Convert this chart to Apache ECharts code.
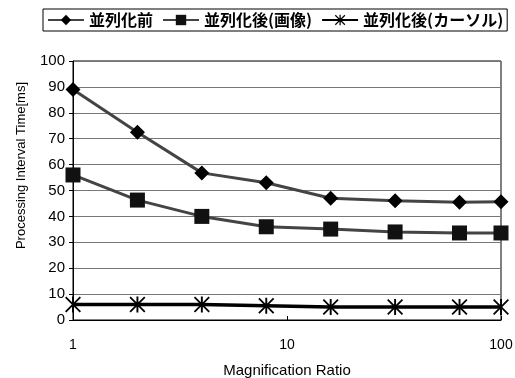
<!DOCTYPE html>
<html><head><meta charset="utf-8">
<script src="https://cdn.jsdelivr.net/npm/echarts@6/dist/echarts.min.js"></script>
<style>html,body{margin:0;padding:0;background:#fff}#c{width:515px;height:378px}</style>
</head><body><div id="c"></div>
<script>
var ratios = [1, 2, 4, 8, 16, 32, 64, 100];
var seriesNames = ['並列化前', '並列化後(画像)', '並列化後(カーソル)'];
var before = [89, 72.5, 56.8, 53, 47, 46, 45.5, 45.7];
var afterImage = [56, 46.3, 40, 36, 35.1, 34, 33.6, 33.6];
var afterCursor = [6, 6, 6, 5.5, 5, 5, 5, 5];
var xTicks = [1, 10, 100];

var starPath = 'path://M4.4,0L5.6,0L5.6,10L4.4,10Z M0,0.8L0.8,0L10,9.2L9.2,10Z M9.2,0L10,0.8L0.8,10L0,9.2Z';
function pairs(v){ return ratios.map(function(x,i){ return [x, v[i]]; }); }

var chart = echarts.init(document.getElementById('c'));
var font = 'Liberation Sans, Arial, sans-serif';
chart.setOption({
  animation: false,
  legend: {
    top: 9, left: 43, width: 470,
    borderColor: '#000', borderWidth: 1, padding: [3, 4, 3, 4],
    itemGap: 9, itemWidth: 36, itemHeight: 13,
    textStyle: { fontFamily: 'Noto Sans CJK JP', fontSize: 16, fontWeight: 'bold', color: '#000' },
    data: seriesNames
  },
  grid: { left: 73, right: 14, top: 61, bottom: 58, containLabel: false, outerBoundsMode: 'none',
    show: true, borderColor: '#000', borderWidth: 1 },
  xAxis: {
    type: 'log', logBase: 10, min: 1, max: 100,
    name: 'Magnification Ratio', nameLocation: 'middle', nameGap: 43,
    nameTextStyle: { fontFamily: font, fontSize: 15, color: '#000' },
    axisLine: { lineStyle: { color: '#000', width: 1 } },
    axisTick: { show: true, inside: true, length: 4, lineStyle: { color: '#000' } },
    minorTick: { show: false },
    axisLabel: { margin: 18, fontFamily: font, fontSize: 14, color: '#000',
      formatter: function(v){ return xTicks.indexOf(Math.round(v)) >= 0 ? String(Math.round(v)) : ''; } },
    splitLine: { show: false }
  },
  yAxis: {
    type: 'value', min: 0, max: 100, interval: 10,
    name: 'Processing Interval Time[ms]', nameLocation: 'middle', nameGap: 45, nameRotate: 90,
    nameTextStyle: { fontFamily: font, fontSize: 13, color: '#000', padding: [0, 0, 0, 50] },
    axisLine: { show: true, lineStyle: { color: '#000', width: 1 } },
    axisTick: { show: true, length: 4, lineStyle: { color: '#000' } },
    axisLabel: { margin: 8, fontFamily: font, fontSize: 15, color: '#000' },
    splitLine: { show: true, lineStyle: { color: '#777', width: 1 } }
  },
  series: [
    { name: seriesNames[0], type: 'line', data: pairs(before), symbol: 'diamond', symbolSize: 15,
      itemStyle: { color: '#000' }, lineStyle: { color: '#444', width: 3 } },
    { name: seriesNames[1], type: 'line', data: pairs(afterImage), symbol: 'rect', symbolSize: 15,
      itemStyle: { color: '#111' }, lineStyle: { color: '#444', width: 3 } },
    { name: seriesNames[2], type: 'line', data: pairs(afterCursor), symbol: starPath, symbolSize: 16,
      itemStyle: { color: '#000' }, lineStyle: { color: '#000', width: 3.5 } }
  ]
});
</script></body></html>
